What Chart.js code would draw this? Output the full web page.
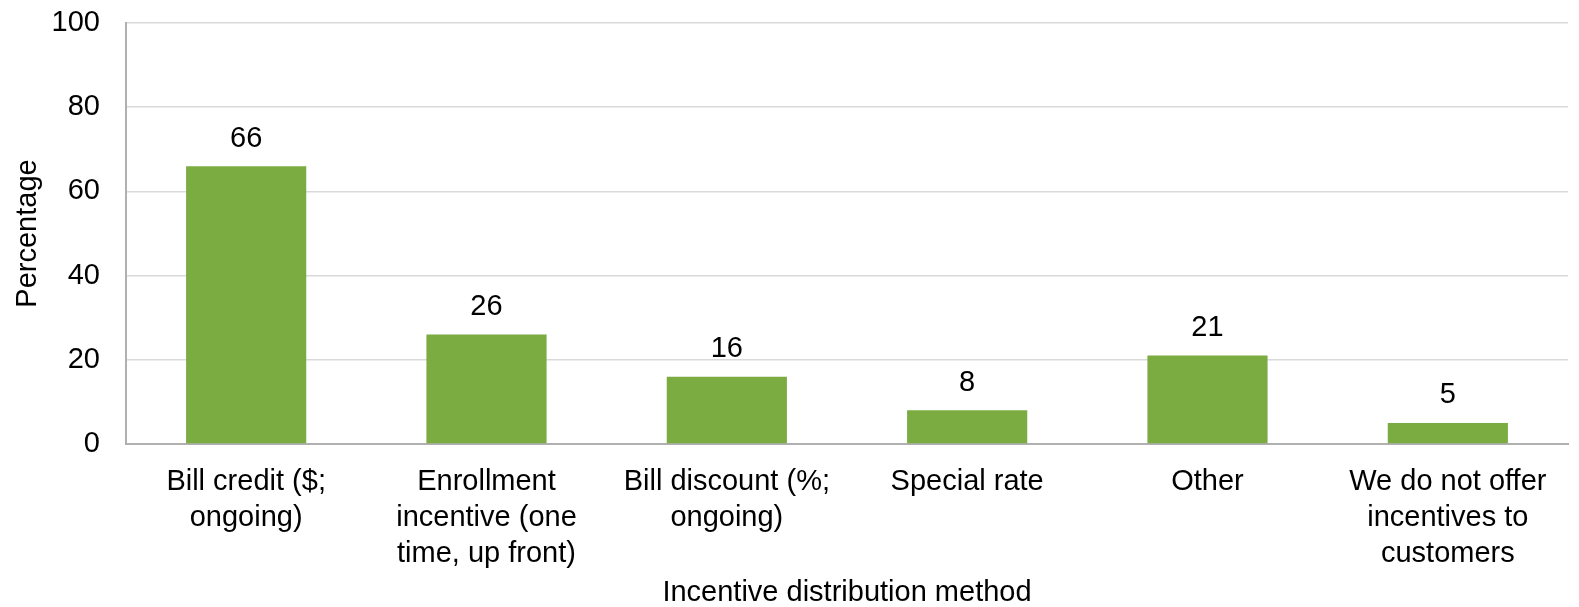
<!DOCTYPE html>
<html>
<head>
<meta charset="utf-8">
<script src="https://cdn.jsdelivr.net/npm/chart.js@4.4.0/dist/chart.umd.min.js"></script>
<style>
  html, body { margin: 0; padding: 0; background: #fff; }
  #wrap { width: 1579px; height: 607px; }
</style>
</head>
<body>
<div id="wrap"><canvas id="chart"></canvas></div>
<script>
const categories = [
    ['Bill credit ($;', 'ongoing)'],
    ['Enrollment', 'incentive (one', 'time, up front)'],
    ['Bill discount (%;', 'ongoing)'],
    ['Special rate'],
    ['Other'],
    ['We do not offer', 'incentives to', 'customers']
];
const percentages = [66, 26, 16, 8, 21, 5];
const yTicks = [0, 20, 40, 60, 80, 100];

const FONT = '"Liberation Sans", Arial, sans-serif';
const SIZE = 29;

// draws the value above each bar
const valueLabels = {
    id: 'valueLabels',
    afterDatasetsDraw(chart) {
        const ctx = chart.ctx;
        ctx.save();
        ctx.font = SIZE + 'px ' + FONT;
        ctx.fillStyle = '#000';
        ctx.textAlign = 'center';
        ctx.textBaseline = 'bottom';
        chart.getDatasetMeta(0).data.forEach((bar, i) => {
            ctx.fillText(percentages[i], bar.x, bar.y - 13);
        });
        ctx.restore();
    }
};

const ctx = document.getElementById('chart').getContext('2d');
const chart = new Chart(ctx, {
    type: 'bar',
    data: {
        labels: categories,
        datasets: [{
            data: percentages,
            backgroundColor: '#7AAC42',
            barPercentage: 0.5,
            categoryPercentage: 1.0
        }]
    },
    options: {
        responsive: true,
        maintainAspectRatio: false,
        animation: false,
        layout: { padding: { top: 23, right: 11, bottom: 0, left: 0 } },
        plugins: {
            legend: { display: false },
            tooltip: { enabled: false }
        },
        scales: {
            x: {
                grid: { display: false, drawTicks: false },
                border: { color: '#B0B0B0', width: 2 },
                ticks: {
                    color: '#000',
                    font: { family: FONT, size: SIZE, lineHeight: 1.24 },
                    padding: 20,
                    maxRotation: 0,
                    autoSkip: false
                },
                title: {
                    display: true,
                    text: 'Incentive distribution method',
                    color: '#000',
                    font: { family: FONT, size: SIZE, lineHeight: 0.95 },
                    padding: { top: 4, bottom: 0 }
                },
                afterFit(scale) {
                    scale.height = 163;
                    scale.paddingLeft = 0;
                    scale.paddingRight = 0;
                }
            },
            y: {
                min: 0,
                max: 100,
                afterBuildTicks(scale) { scale.ticks = yTicks.map(v => ({ value: v })); },
                grid: { color: '#D9D9D9', lineWidth: 1.5, drawTicks: false },
                border: { color: '#B0B0B0', width: 2 },
                ticks: {
                    color: '#000',
                    font: { family: FONT, size: SIZE },
                    padding: 26
                },
                title: {
                    display: true,
                    text: 'Percentage',
                    color: '#000',
                    font: { family: FONT, size: SIZE },
                    padding: { top: 11, bottom: 0 }
                },
                afterFit(scale) {
                    scale.width = 126;
                    scale.paddingTop = 0;
                    scale.paddingBottom = 0;
                }
            }
        }
    },
    plugins: [valueLabels]
});
</script>
</body>
</html>
